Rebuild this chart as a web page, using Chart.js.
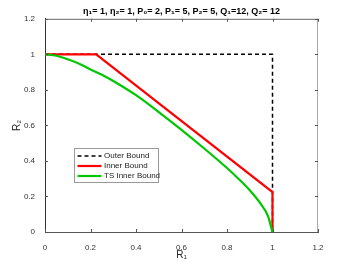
<!DOCTYPE html>
<html>
<head>
<meta charset="utf-8">
<script src="https://cdn.jsdelivr.net/npm/chart.js@4/dist/chart.umd.min.js"></script>
<style>
  html, body { margin: 0; padding: 0; background: #fff; }
  canvas { display: block; }
</style>
</head>
<body>
<canvas id="rateChart" width="350" height="263"></canvas>
<script>
// series
const outerX = [0, 1, 1];
const outerY = [1, 1, 0];

const innerX = [0, 0.225, 1, 1];
const innerY = [1, 1, 0.225, 0];

const tsX = [0, 0.05, 0.1, 0.15, 0.2, 0.25, 0.3, 0.4, 0.5, 0.6, 0.7, 0.8, 0.85, 0.9, 0.95, 0.98, 1];
const tsY = [1, 0.992, 0.972, 0.947, 0.915, 0.885, 0.85, 0.77, 0.675, 0.575, 0.47, 0.36, 0.3, 0.235, 0.155, 0.09, 0];

const seriesNames = ['Outer Bound', 'Inner Bound', 'TS Inner Bound'];
const axisTicks = [0, 0.2, 0.4, 0.6, 0.8, 1, 1.2];
const titleText = 'η₁= 1, η₂= 1, P₀= 2, P₁= 5, P₂= 5, Q₁=12, Q₂= 12';

const toPoints = (xs, ys) => xs.map((x, i) => ({ x: x, y: ys[i] }));
const fmt = v => String(+v.toFixed(1));
const FONT = "'Liberation Sans', Arial, Helvetica, sans-serif";

// matlab style box: top/right edges, inward ticks, legend inside the axes
const matlabBox = {
    id: 'matlabBox',
    afterDraw(chart) {
        const { ctx, chartArea: a, scales } = chart;
        const x = scales.x, y = scales.y;
        ctx.save();
        ctx.lineWidth = 1;

        ctx.strokeStyle = '#666';
        ctx.beginPath();
        ctx.moveTo(a.left, a.top + 0.5);
        ctx.lineTo(a.right, a.top + 0.5);
        ctx.stroke();
        ctx.strokeStyle = '#aaa';
        ctx.beginPath();
        ctx.moveTo(a.right - 0.5, a.top);
        ctx.lineTo(a.right - 0.5, a.bottom);
        ctx.stroke();

        ctx.strokeStyle = '#555';
        ctx.beginPath();
        axisTicks.forEach(v => {
            const px = Math.round(x.getPixelForValue(v)) + 0.5;
            ctx.moveTo(px, a.bottom); ctx.lineTo(px, a.bottom - 3);
            ctx.moveTo(px, a.top); ctx.lineTo(px, a.top + 3);
            const py = Math.round(y.getPixelForValue(v)) + 0.5;
            ctx.moveTo(a.left, py); ctx.lineTo(a.left + 3, py);
            ctx.moveTo(a.right, py); ctx.lineTo(a.right - 3, py);
        });
        ctx.stroke();

        // legend
        const bx = 74.5, by = 148.5, bw = 84, bh = 34;
        ctx.fillStyle = '#fff';
        ctx.fillRect(bx, by, bw, bh);
        ctx.strokeStyle = '#999';
        ctx.strokeRect(bx, by, bw, bh);
        ctx.font = '8px ' + FONT;
        ctx.textBaseline = 'middle';
        chart.data.datasets.forEach((ds, i) => {
            const ly = by + 7.5 + i * 10;
            ctx.strokeStyle = ds.borderColor;
            ctx.lineWidth = ds.borderWidth;
            ctx.setLineDash(ds.borderDash || []);
            ctx.beginPath();
            ctx.moveTo(bx + 3, ly);
            ctx.lineTo(bx + 27, ly);
            ctx.stroke();
            ctx.setLineDash([]);
            ctx.fillStyle = '#222';
            ctx.fillText(ds.label, bx + 29.5, ly);
        });
        ctx.restore();
    }
};

new Chart(document.getElementById('rateChart'), {
    type: 'line',
    data: {
        datasets: [
            { label: seriesNames[0], data: toPoints(outerX, outerY), borderColor: '#000', borderWidth: 1.5, borderDash: [4, 3], order: 3 },
            { label: seriesNames[1], data: toPoints(innerX, innerY), borderColor: '#ff0000', borderWidth: 2.2, order: 2 },
            { label: seriesNames[2], data: toPoints(tsX, tsY), borderColor: '#00c800', borderWidth: 2.2, cubicInterpolationMode: 'monotone', order: 1 }
        ]
    },
    options: {
        responsive: false,
        animation: false,
        devicePixelRatio: 1,
        layout: { padding: { left: 0, right: 32, top: 0, bottom: 0 } },
        elements: { point: { radius: 0 }, line: { tension: 0 } },
        plugins: {
            legend: { display: false },
            tooltip: { enabled: false },
            title: {
                display: true,
                text: titleText,
                fullSize: false,
                color: '#000',
                font: { family: FONT, size: 9, weight: 'bold', lineHeight: 1.2 },
                padding: { top: 6, bottom: 2 }
            }
        },
        scales: {
            x: {
                type: 'linear',
                min: 0, max: 1.2,
                afterBuildTicks: s => { s.ticks = axisTicks.map(v => ({ value: v })); },
                afterFit: s => { s.height = 31; },
                grid: { display: false },
                border: { color: '#555', width: 1 },
                ticks: { callback: fmt, color: '#333', padding: 3, maxRotation: 0, font: { family: FONT, size: 8 } },
                title: { display: true, text: 'R₁', color: '#222', padding: { top: 0, bottom: 2 }, font: { family: FONT, size: 10 } }
            },
            y: {
                type: 'linear',
                min: 0, max: 1.2,
                afterBuildTicks: s => { s.ticks = axisTicks.map(v => ({ value: v })); },
                afterFit: s => { s.width = 45; },
                grid: { display: false },
                border: { color: '#333', width: 1 },
                ticks: { callback: fmt, color: '#333', padding: 2, font: { family: FONT, size: 8 } },
                title: { display: true, text: 'R₂', color: '#222', padding: { top: 11, bottom: 0 }, font: { family: FONT, size: 10 } }
            }
        }
    },
    plugins: [matlabBox]
});
</script>
</body>
</html>
